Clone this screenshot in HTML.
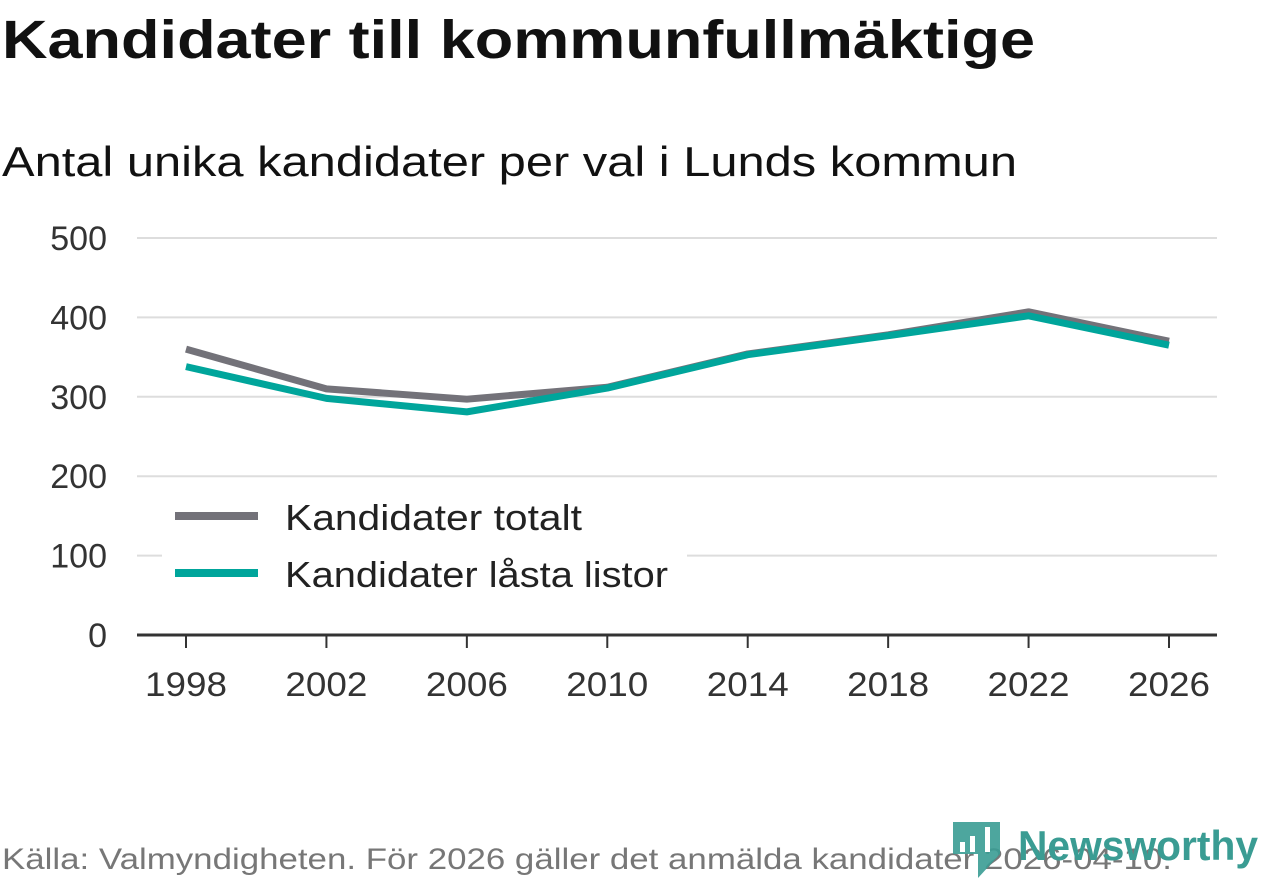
<!DOCTYPE html>
<html><head><meta charset="utf-8"><style>
html,body{margin:0;padding:0;background:#fff;}
svg{display:block;font-family:"Liberation Sans",sans-serif;}
</style></head><body>
<svg id="chart" width="1262" height="879" viewBox="0 0 1262 879">
<text x="2" y="58" font-size="54" font-weight="bold" fill="#111" textLength="1033" lengthAdjust="spacingAndGlyphs">Kandidater till kommunfullmäktige</text>
<text x="2" y="176" font-size="42" fill="#111" textLength="1015" lengthAdjust="spacingAndGlyphs">Antal unika kandidater per val i Lunds kommun</text>
<g id="grid"></g>
<g id="lines"></g>
<g>
<rect x="162" y="492" width="525" height="104" fill="#fff"/>
<line x1="175" y1="516" x2="258" y2="516" stroke="#737279" stroke-width="8"/>
<text x="285" y="530" font-size="36" fill="#222" textLength="297" lengthAdjust="spacingAndGlyphs">Kandidater totalt</text>
<line x1="175" y1="573" x2="258" y2="573" stroke="#00a59b" stroke-width="8"/>
<text x="285" y="587" font-size="36" fill="#222" textLength="383" lengthAdjust="spacingAndGlyphs">Kandidater låsta listor</text>
</g>
<text x="2" y="869" font-size="30" fill="#777" textLength="1170" lengthAdjust="spacingAndGlyphs">Källa: Valmyndigheten. För 2026 gäller det anmälda kandidater 2026-04-10.</text>
<g>
<path d="M953 822 h47 v32 l-22 24 v-24 h-25 z" fill="#3a9c93" opacity="0.9"/>
<rect x="960" y="842" width="5" height="10" fill="#fff"/><rect x="970" y="836" width="5" height="16" fill="#fff"/><rect x="985" y="827" width="5" height="25" fill="#fff"/>
<text x="1018" y="860" font-size="42" font-weight="bold" fill="#3a9c93" textLength="240" lengthAdjust="spacingAndGlyphs">Newsworthy</text>
</g>
</svg>
<script>
const years=[1998,2002,2006,2010,2014,2018,2022,2026];
const totalt=[360,310,297,312,354,378,407,370];
const lasta=[338,298,281,311,353,377,402,365];
const yTicks=[0,100,200,300,400,500];
const NS="http://www.w3.org/2000/svg";
function xs(v){return 186+(v-1998)/28*(1169-186);}
function ys(v){return 635-v*0.794;}
const grid=document.getElementById('grid'),lines=document.getElementById('lines');
function mk(tag,attrs,parent){const e=document.createElementNS(NS,tag);for(const k in attrs)e.setAttribute(k,attrs[k]);parent.appendChild(e);return e;}
yTicks.forEach(t=>{
 if(t>0){const l=mk('line',{x1:137,x2:1217,y1:ys(t),y2:ys(t),stroke:'#ddd','stroke-width':2},grid);
 
 }
 const tx=mk('text',{x:107,y:ys(t)+12,'font-size':34,fill:'#333','text-anchor':'end'},grid);tx.textContent=t;
 
 
});
const ax=mk('line',{x1:137,x2:1217,y1:635,y2:635,stroke:'#333','stroke-width':3},grid);


years.forEach(y=>{
 const tk=mk('line',{x1:xs(y),x2:xs(y),y1:635,y2:648,stroke:'#333','stroke-width':2},grid);
 
 
 const tx=mk('text',{x:xs(y),y:696,'font-size':34,fill:'#333','text-anchor':'middle',textLength:82,lengthAdjust:'spacingAndGlyphs'},grid);tx.textContent=y;
 
 
});
function line(vals,color,name){
 const p=mk('polyline',{points:vals.map((v,i)=>xs(years[i])+','+ys(v)).join(' '),fill:'none',stroke:color,'stroke-width':7,'stroke-linejoin':'round'},lines);
 
 
}
line(totalt,'#737279','line-kandidater-totalt');
line(lasta,'#00a59b','line-kandidater-lasta-listor');
</script>
</body></html>
